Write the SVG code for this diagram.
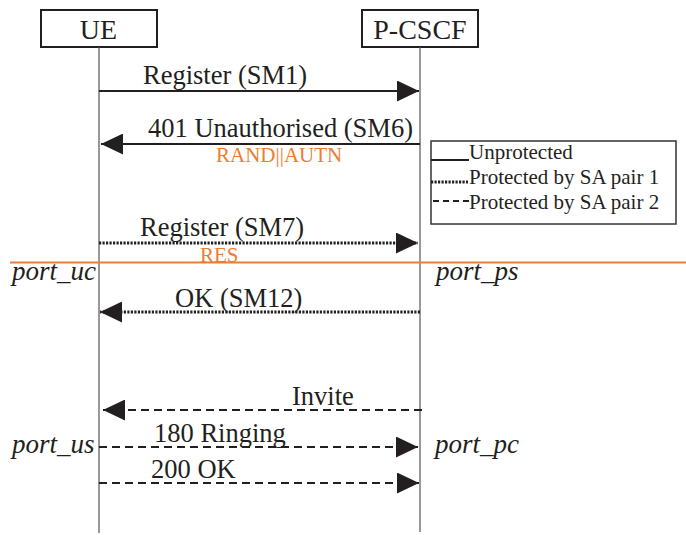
<svg xmlns="http://www.w3.org/2000/svg" width="686" height="535" viewBox="0 0 686 535">
<style>
.t{font-family:"Liberation Serif","Times New Roman",serif;font-size:26.5px;fill:#231f20}
.n{font-size:28px}
.i{font-style:italic;font-size:27px}
.s{font-size:21px}
.o{fill:#ED7D31}
.box{fill:#fff;stroke:#231f20;stroke-width:2}
.life{stroke:#555;stroke-width:1.2}
.msg{stroke:#231f20;stroke-width:2;fill:none}
.dot{stroke-width:3;stroke-dasharray:2.2 1.3}
.dash{stroke-dasharray:8 5}
</style>
<defs>
<marker id="ah" markerUnits="userSpaceOnUse" markerWidth="22" markerHeight="21" viewBox="0 0 21 20" refX="21" refY="10" orient="auto">
<path d="M0,0 L21,10 L0,20 z" fill="#231f20"/>
</marker>
</defs>
<g id="UE">
<rect class="box" x="41" y="10" width="116" height="37"/>
<text class="t n" x="98.5" y="39" text-anchor="middle">UE</text>
<line class="life" x1="99" y1="47" x2="99" y2="533"/>
</g>
<g id="PCSCF">
<rect class="box" x="362" y="10" width="116" height="37"/>
<text class="t n" x="420" y="39" text-anchor="middle">P-CSCF</text>
<line class="life" x1="420" y1="47" x2="420" y2="532"/>
</g>
<g id="legend">
<rect x="431" y="141" width="245" height="83" fill="#fff" stroke="#333" stroke-width="1.5"/>
<line class="msg" x1="431" y1="160" x2="469" y2="160"/>
<line class="msg dot" x1="431" y1="182" x2="468" y2="182"/>
<line class="msg dash" x1="433" y1="201" x2="469" y2="201" style="stroke-dasharray:6 4"/>
<text class="t s" x="469" y="159">Unprotected</text>
<text class="t s" x="469" y="184">Protected by SA pair 1</text>
<text class="t s" x="469" y="209">Protected by SA pair 2</text>
</g>
<g id="separator">
<line x1="10" y1="262.5" x2="686" y2="262.5" stroke="#ED7D31" stroke-width="2"/>
</g>
<g id="connectors">
<line class="msg" x1="99" y1="91" x2="419" y2="91" marker-end="url(#ah)"/>
<line class="msg" x1="420" y1="144" x2="101" y2="144" marker-end="url(#ah)"/>
<line class="msg dot" x1="99" y1="243" x2="418" y2="243" marker-end="url(#ah)"/>
<line class="msg dot" x1="420" y1="312" x2="100" y2="312" marker-end="url(#ah)"/>
<line class="msg dash" x1="422" y1="410" x2="103" y2="410" marker-end="url(#ah)"/>
<line class="msg dash" x1="99" y1="447" x2="418" y2="447" marker-end="url(#ah)"/>
<line class="msg dash" x1="99" y1="483" x2="419" y2="483" marker-end="url(#ah)"/>
</g>
<g id="labels">
<text class="t" x="143" y="84">Register (SM1)</text>
<text class="t" x="148" y="137">401 Unauthorised (SM6)</text>
<text class="t s o" x="216" y="162">RAND||AUTN</text>
<text class="t" x="140" y="236">Register (SM7)</text>
<text class="t s o" x="200" y="262">RES</text>
<text class="t i" x="12" y="280">port_uc</text>
<text class="t i" x="436" y="280">port_ps</text>
<text class="t" x="175" y="307">OK (SM12)</text>
<text class="t" x="292" y="405">Invite</text>
<text class="t" x="154" y="442">180 Ringing</text>
<text class="t i" x="12" y="453">port_us</text>
<text class="t i" x="435" y="453">port_pc</text>
<text class="t" x="151" y="478">200 OK</text>
</g>
</svg>
